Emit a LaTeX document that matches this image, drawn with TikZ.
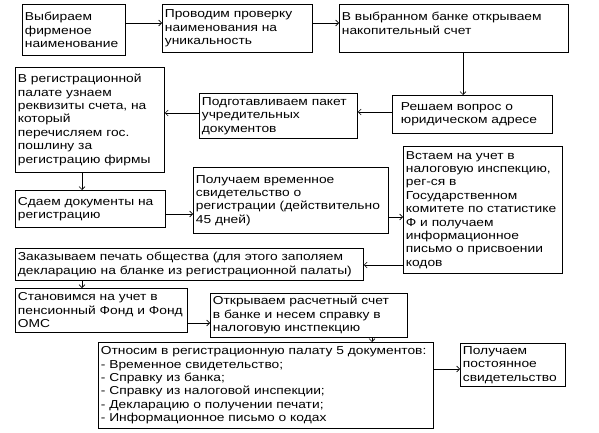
\documentclass[tikz,border=0pt]{standalone}
\usepackage{fontspec}
\setmainfont{Liberation Sans}[FakeStretch=1.2]
\usetikzlibrary{arrows.meta}

\begin{document}
\begin{tikzpicture}[x=1pt,y=-1pt,
	blk/.style={draw=black, line width=0.8pt, anchor=north west, inner xsep=2.5pt, inner ysep=3pt,
		align=left, font=\fontsize{11.5}{13.4}\selectfont},
	arr/.style={draw=black, line width=0.6pt, -{Straight Barb[length=3pt,width=6pt]}}]
	\useasboundingbox (0,0) rectangle (599,433);
	\node[blk, text width=98pt, minimum height=51pt] (choose) at (22,4) {Выбираем\\фирменое\\наименование};
	\node[blk, text width=145pt, minimum height=48pt] (check) at (162,4) {Проводим проверку\\наименования на\\уникальность};
	\node[blk, text width=224pt, minimum height=48pt, text depth=24pt] (bank) at (339,4) {В выбранном банке открываем\\накопительный счет};
	\node[blk, text width=155pt, minimum height=38pt] (address) at (392,95) {\hspace*{6pt}Решаем вопрос о\\\hspace*{6pt}юридическом адресе};
	\node[blk, text width=153pt, minimum height=45pt] (package) at (199,93) {Подготавливаем пакет\\учредительных\\документов};
	\node[blk, text width=144pt, minimum height=105pt] (duty) at (15,67) {В регистрационной\\палате узнаем\\реквизиты счета, на\\который\\перечисляем гос.\\пошлину за\\регистрацию фирмы};
	\node[blk, text width=145pt, minimum height=37pt] (submit) at (15,190) {Сдаем документы на\\регистрацию};
	\node[blk, text width=190pt, minimum height=66pt] (temp) at (193,167) {Получаем временное\\свидетельство о\\регистрации (действительно\\45 дней)};
	\node[blk, text width=154pt, minimum height=127pt] (tax) at (403,146) {Встаем на учет в\\налоговую инспекцию,\\рег-ся в\\Государственном\\\mbox{комитете по статистике}\\Ф и получаем\\информационное\\письмо о присвоении\\кодов};
	\node[blk, text width=343pt, minimum height=32pt] (seal) at (15,248) {Заказываем печать общества (для этого заполяем\\декларацию на бланке из регистрационной палаты)};
	\node[blk, text width=167pt, minimum height=44pt] (fund) at (15,288) {Становимся на учет в\\пенсионный Фонд и Фонд\\ОМС};
	\node[blk, text width=192pt, minimum height=42pt] (account) at (210,293) {Открываем расчетный счет\\в банке и несем справку в\\налоговую инстпекцию};
	\node[blk, text width=330pt, minimum height=86pt] (docs) at (98,342) {Относим в регистрационную палату 5 документов:\\- Временное свидетельство;\\- Справку из банка;\\- Справку из налоговой инспекции;\\- Декларацию о получении печати;\\- Информационное письмо о кодах};
	\node[blk, text width=100pt, minimum height=42pt] (final) at (460,343) {Получаем\\постоянное\\свидетельство};
	\draw[arr] (choose.east |- 0,23) -- (check.west |- 0,23);
	\draw[arr] (check.east |- 0,23) -- (bank.west |- 0,23);
	\draw[arr] (bank.south -| 463,0) -- (address.north -| 463,0);
	\draw[arr] (address.west |- 0,112) -- (package.east |- 0,112);
	\draw[arr] (package.west |- 0,113) -- (duty.east |- 0,113);
	\draw[arr] (duty.south -| 82,0) -- (submit.north -| 82,0);
	\draw[arr] (submit.east |- 0,214) -- (temp.west |- 0,214);
	\draw[arr] (temp.east |- 0,217) -- (tax.west |- 0,217);
	\draw[arr] (tax.west |- 0,265) -- (seal.east |- 0,265);
	\draw[arr] (seal.south -| 82,0) -- (fund.north -| 82,0);
	\draw[arr] (fund.east |- 0,323) -- (account.west |- 0,323);
	\draw[arr] (account.south -| 372,0) -- (docs.north -| 372,0);
	\draw[arr] (docs.east |- 0,369) -- (final.west |- 0,369);
\end{tikzpicture}
\end{document}
